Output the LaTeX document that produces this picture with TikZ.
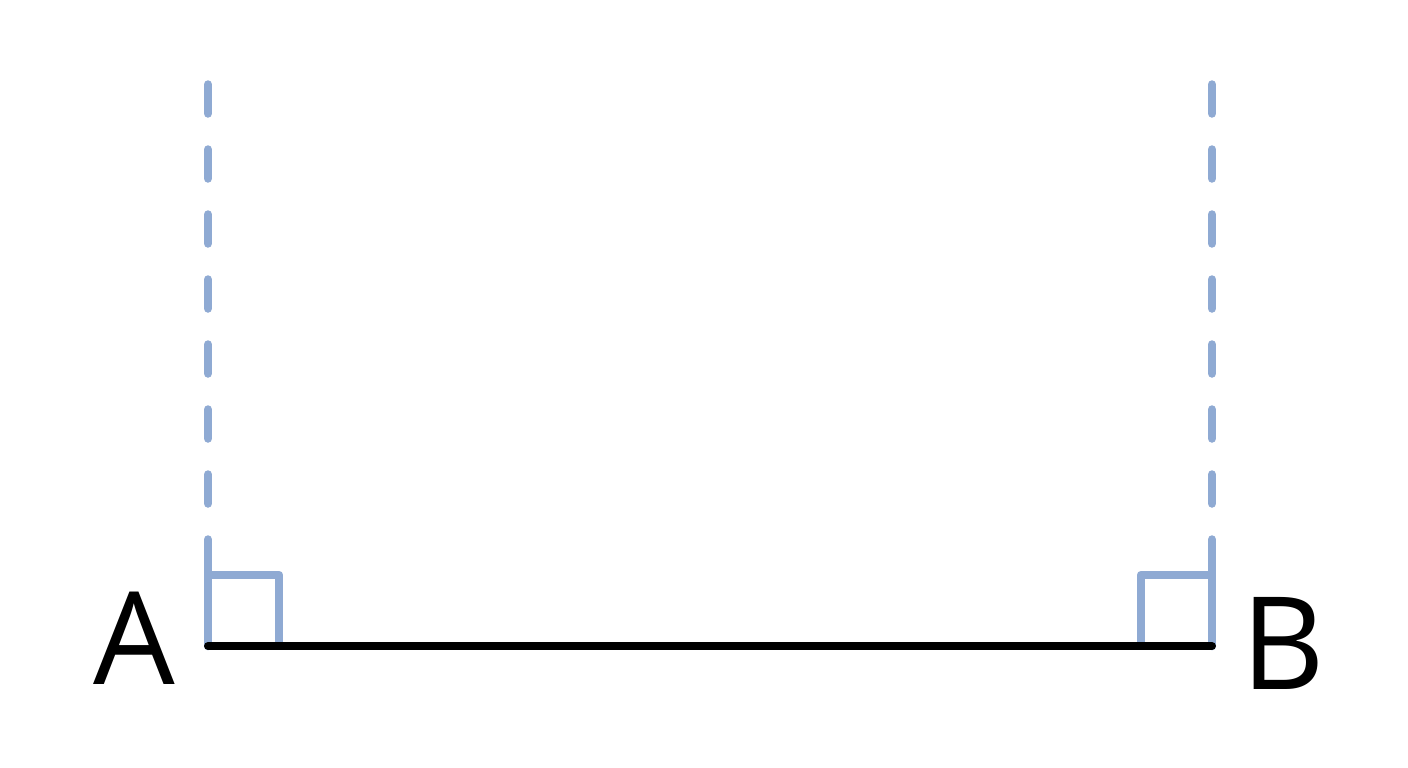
\documentclass[tikz,border=0pt]{standalone}
\usepackage{fontspec}
\setmainfont{Open Sans}
\definecolor{perpblue}{RGB}{143,170,211}
\begin{document}
\begin{tikzpicture}[x=1pt,y=-1pt,
  guide/.style={perpblue,line width=8.5pt,line cap=round,dash pattern=on 29pt off 36pt},
  guidesolid/.style={perpblue,line width=8.5pt,line cap=round,line join=round},
  seg/.style={black,line width=8pt,line cap=round},
  ptlabel/.style={anchor=base,inner sep=0pt,font=\fontsize{129}{129}\selectfont}]
\useasboundingbox (0,0) rectangle (1408,768);
\fill[white] (0,0) rectangle (1408,768);
% coordinates
\coordinate (Atop) at (208,84.5);
\coordinate (Amid) at (208,541.5);
\coordinate (Afoot) at (208,646);
\coordinate (Btop) at (1212,84.5);
\coordinate (Bmid) at (1212,541.5);
\coordinate (Bfoot) at (1212,646);
\coordinate (Asq1) at (208,575);
\coordinate (Asq2) at (279,575);
\coordinate (Asq3) at (279,642);
\coordinate (Bsq1) at (1212,575);
\coordinate (Bsq2) at (1141,575);
\coordinate (Bsq3) at (1141,642);
% dashed perpendiculars
\draw[guide] (Atop) -- (Amid);
\draw[guide] (Btop) -- (Bmid);
\draw[guidesolid] (Amid) -- (Afoot);
\draw[guidesolid] (Bmid) -- (Bfoot);
% right-angle marks
\draw[guidesolid,line cap=butt] (Asq1) -- (Asq2) -- (Asq3);
\draw[guidesolid,line cap=butt] (Bsq1) -- (Bsq2) -- (Bsq3);
% segment
\draw[seg] (Afoot) -- (Bfoot);
% labels
\node[ptlabel] (A) at (134,684) {A};
\node[ptlabel] (B) at (1283,689) {B};
\end{tikzpicture}
\end{document}
